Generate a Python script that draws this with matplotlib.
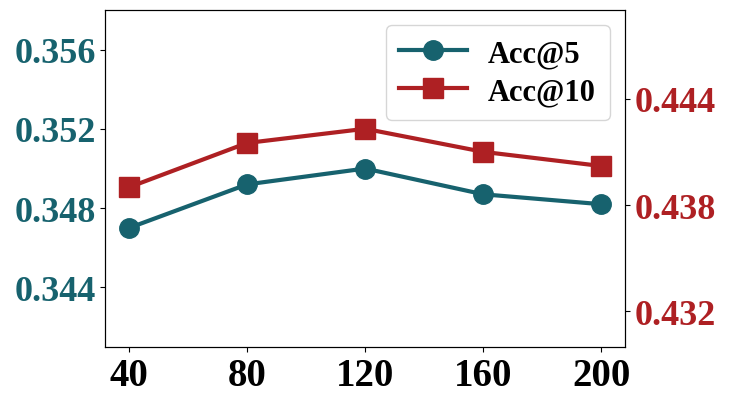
import matplotlib
matplotlib.use('Agg')
import matplotlib.pyplot as plt
import numpy as np

plt.rcParams['font.family'] = ['Liberation Serif', 'DejaVu Serif']
plt.rcParams['font.weight'] = 'bold'

# data
sizes = [40, 80, 120, 160, 200]
acc5 = [0.3470, 0.3492, 0.3500, 0.3487, 0.3482]
acc10 = [0.4390, 0.4415, 0.4423, 0.4410, 0.4402]

left_ticks = [0.344, 0.348, 0.352, 0.356]
right_ticks = [0.432, 0.438, 0.444]

teal = '#17626e'
red = '#ae2023'

fig = plt.figure(figsize=(7.31, 4.06), dpi=100)
ax = fig.add_axes([0.144, 0.143, 0.711, 0.830])
ax2 = ax.twinx()

l1, = ax.plot(sizes, acc5, color=teal, marker='o', linewidth=3, markersize=14, label='Acc@5')
l2, = ax2.plot(sizes, acc10, color=red, marker='s', linewidth=3, markersize=14, label='Acc@10')

ax.set_ylim(0.341, 0.358)
ax2.set_ylim(0.430, 0.449)
ax.set_yticks(left_ticks)
ax.set_yticklabels(['%.3f' % v for v in left_ticks])
ax2.set_yticks(right_ticks)
ax2.set_yticklabels(['%.3f' % v for v in right_ticks])
ax.set_xticks(sizes)

ax.tick_params(axis='x', labelsize=28)
ax.tick_params(axis='y', labelsize=26, labelcolor=teal)
ax2.tick_params(axis='y', labelsize=26, labelcolor=red)
for lab in ax.get_xticklabels() + ax.get_yticklabels() + ax2.get_yticklabels():
    lab.set_fontweight('bold')

ax.legend(handles=[l1, l2], loc='upper right', prop={'weight': 'bold', 'size': 22},
          handlelength=2.2, borderpad=0.45, labelspacing=0.3, handletextpad=0.7)

fig.savefig('out.png', dpi=100)
